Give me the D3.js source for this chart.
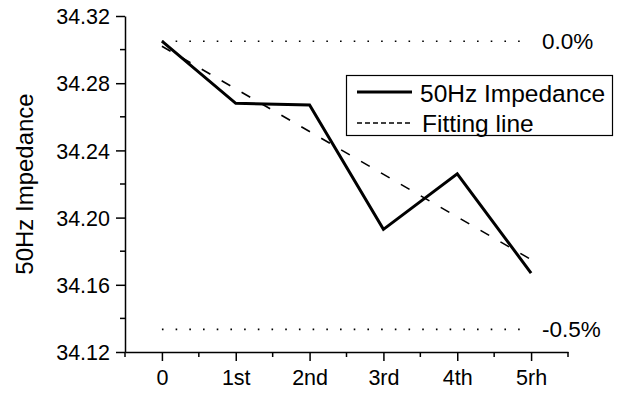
<!DOCTYPE html>
<html>
<head>
<meta charset="utf-8">
<script src="https://cdn.jsdelivr.net/npm/d3@7"></script>
<style>
  html, body { margin: 0; padding: 0; background: #fff; }
  svg { display: block; }
  text { font-family: "Liberation Sans", Arial, sans-serif; fill: #000; }
</style>
</head>
<body>
<svg id="chart" width="622" height="397"></svg>
<script>
// Measurement rounds and the impedance measured after each
const categories = ["0", "1st", "2nd", "3rd", "4th", "5rh"];
const impedance = [34.305, 34.268, 34.267, 34.193, 34.226, 34.167];
// Linear fit through the measurements (value at first and last round)
const fitEnds = [34.302, 34.175];
// Reference levels relative to the initial value
const refLabels = ["0.0%", "-0.5%"];
const refFactors = [1.0, 0.995];
const yTicks = [34.12, 34.16, 34.20, 34.24, 34.28, 34.32];
const legendLabels = ["50Hz Impedance", "Fitting line"];

const svg = d3.select("#chart");
const plot = { left: 125, right: 568, top: 16, bottom: 352 };

const x = d3.scaleLinear().domain([-0.5, categories.length - 0.5]).range([plot.left, plot.right]);
const y = d3.scaleLinear().domain([34.12, 34.32]).range([plot.bottom, plot.top]);

// Minor ticks
const xMinor = d3.range(-0.5, categories.length, 0.5).filter(v => !Number.isInteger(v));
const yMinor = d3.range(34.14, 34.32, 0.04);

const axisW = 1.5;

// Y axis
const yAxis = d3.axisLeft(y).tickValues(yTicks).tickFormat(d3.format(".2f"))
  .tickSize(9).tickPadding(6).tickSizeOuter(0);
const gy = svg.append("g").attr("transform", `translate(${plot.left},0)`).call(yAxis);
gy.selectAll(".tick text").style("font-size", "21.5px").attr("dy", "0.36em");
gy.append("g").selectAll("line").data(yMinor).join("line")
  .attr("x1", -5).attr("x2", 0).attr("y1", d => y(d)).attr("y2", d => y(d))
  .attr("stroke", "#000");

// X axis
const xAxis = d3.axisBottom(x).tickValues(d3.range(categories.length))
  .tickFormat(i => categories[i]).tickSize(9).tickPadding(9).tickSizeOuter(0);
const gx = svg.append("g").attr("transform", `translate(0,${plot.bottom})`).call(xAxis);
gx.selectAll(".tick text").style("font-size", "21.5px");
gx.append("g").selectAll("line").data(xMinor).join("line")
  .attr("x1", d => x(d)).attr("x2", d => x(d)).attr("y1", 0).attr("y2", 5)
  .attr("stroke", "#000");

svg.selectAll(".domain, .tick line").attr("stroke", "#000").attr("stroke-width", axisW);
svg.selectAll("g line").attr("stroke-width", axisW);
svg.selectAll(".tick text").attr("fill", "#000");

// Y axis title
svg.append("text")
  .attr("transform", `translate(33,${(plot.top + plot.bottom) / 2}) rotate(-90)`)
  .attr("text-anchor", "middle")
  .style("font-size", "24px")
  .text("50Hz Impedance");

// Reference levels
refFactors.forEach((f, i) => {
  const v = impedance[0] * f;
  svg.append("line")
    .attr("x1", x(0)).attr("x2", x(categories.length - 1))
    .attr("y1", y(v)).attr("y2", y(v))
    .attr("stroke", "#000").attr("stroke-width", 1.6)
    .attr("stroke-dasharray", "1.6,12.1");
  svg.append("text")
    .attr("x", x(categories.length - 1) + 11).attr("y", y(v))
    .attr("dy", "0.36em")
    .style("font-size", "22.5px")
    .text(refLabels[i]);
});

// Fitting line
svg.append("line")
  .attr("x1", x(0)).attr("y1", y(fitEnds[0]))
  .attr("x2", x(categories.length - 1)).attr("y2", y(fitEnds[1]))
  .attr("stroke", "#000").attr("stroke-width", 1.6)
  .attr("stroke-dasharray", "10,13");

// Measured impedance
const line = d3.line().x((d, i) => x(i)).y(d => y(d));
svg.append("path").datum(impedance)
  .attr("d", line)
  .attr("fill", "none").attr("stroke", "#000").attr("stroke-width", 3)
  .attr("stroke-linejoin", "miter");

// Legend
const lg = svg.append("g");
lg.append("rect").attr("x", 346.5).attr("y", 75.5).attr("width", 266).attr("height", 60)
  .attr("fill", "#fff").attr("stroke", "#000").attr("stroke-width", 1.2);
lg.append("line").attr("x1", 357).attr("x2", 412).attr("y1", 92).attr("y2", 92)
  .attr("stroke", "#000").attr("stroke-width", 3);
lg.append("line").attr("x1", 357).attr("x2", 412).attr("y1", 123).attr("y2", 123)
  .attr("stroke", "#000").attr("stroke-width", 1.5).attr("stroke-dasharray", "5,3");
lg.selectAll("text.lab").data(legendLabels).join("text")
  .attr("class", "lab")
  .attr("x", (d, i) => i === 0 ? 420 : 422)
  .attr("y", (d, i) => i === 0 ? 93 : 123)
  .attr("dy", "0.36em")
  .style("font-size", "24.5px")
  .text(d => d);
</script>
</body>
</html>
